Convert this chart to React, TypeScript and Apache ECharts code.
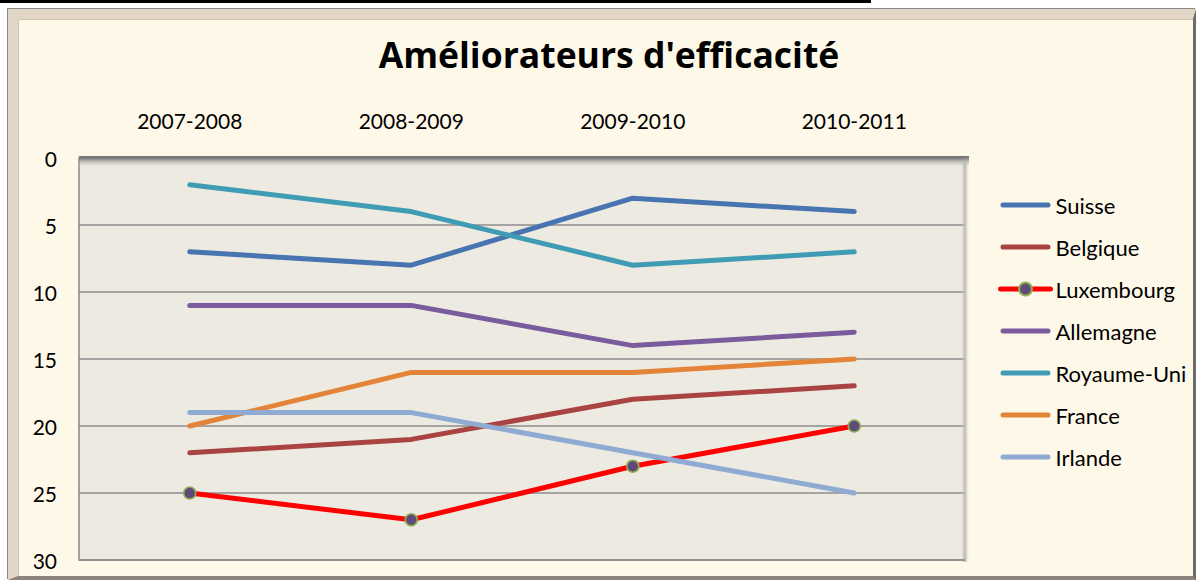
import React, { useEffect, useRef } from "react";
import * as echarts from "echarts";

const categories = ["2007-2008", "2008-2009", "2009-2010", "2010-2011"];
const suisse = [7, 8, 3, 4];
const belgique = [22, 21, 18, 17];
const luxembourg = [25, 27, 23, 20];
const allemagne = [11, 11, 14, 13];
const royaumeUni = [2, 4, 8, 7];
const france = [20, 16, 16, 15];
const irlande = [19, 19, 22, 25];
const yTicks = { min: 0, max: 30, interval: 5 };

const seriesDefs = [
  { name: "Suisse", data: suisse, color: "#4874B2" },
  { name: "Belgique", data: belgique, color: "#AA4442" },
  { name: "Luxembourg", data: luxembourg, color: "#FF0000", marker: true },
  { name: "Allemagne", data: allemagne, color: "#7A5C9E" },
  { name: "Royaume-Uni", data: royaumeUni, color: "#409CB5" },
  { name: "France", data: france, color: "#E38438" },
  { name: "Irlande", data: irlande, color: "#8FABD3" },
];

const FONT = "Lato";
// thick rounded line, vertically centred in a 50x16 box (zero-size subpaths fix the box)
const LINE_ICON =
  "path://M0 0L0 0ZM0 16L0 16ZM2.5 5.5H47.5A2.5 2.5 0 0 1 47.5 10.5H2.5A2.5 2.5 0 0 1 2.5 5.5Z";

export default function App() {
  const ref = useRef<HTMLDivElement>(null);
  useEffect(() => {
    if (!ref.current) return;
    const chart = echarts.init(ref.current, null, { renderer: "svg" });
    const L = 79, T = 158, R = 965, B = 560;
    chart.setOption({
      animation: false,
      backgroundColor: "transparent",
      title: {
        text: "Améliorateurs d'efficacité",
        left: 604,
        textAlign: "center",
        top: 31,
        textStyle: { fontFamily: "Open Sans", fontWeight: "bold", fontSize: 35.5, color: "#000" },
      },
      grid: {
        left: L,
        top: T,
        width: R - L,
        height: B - T,
        show: true,
        backgroundColor: "#EDEBE1",
        borderWidth: 0,
        z: 0,
      },
      legend: {
        orient: "vertical",
        left: 998,
        top: 194,
        padding: 0,
        itemWidth: 50,
        itemHeight: 16,
        itemGap: 20,
        lineStyle: { width: 5 },
        textStyle: { fontFamily: FONT, fontSize: 22, color: "#000" },
        data: seriesDefs.map((s) =>
          s.marker ? { name: s.name } : { name: s.name, icon: LINE_ICON }
        ),
      },
      xAxis: {
        type: "category",
        position: "top",
        data: categories,
        boundaryGap: true,
        axisLine: { show: false },
        axisTick: { show: false },
        axisLabel: { fontFamily: FONT, fontSize: 21, color: "#000", margin: 27 },
        splitLine: { show: false },
      },
      yAxis: {
        type: "value",
        inverse: true,
        min: yTicks.min,
        max: yTicks.max,
        interval: yTicks.interval,
        axisLine: { show: true, lineStyle: { color: "#888", width: 1.5 } },
        axisTick: { show: false },
        axisLabel: { fontFamily: FONT, fontSize: 21, color: "#000", margin: 22 },
        splitLine: { show: true, lineStyle: { color: "#8C8C8C", width: 1.5 } },
      },
      graphic: [
        {
          type: "rect",
          z: 1,
          shape: { x: L, y: T - 2, width: R - L + 4, height: 12 },
          style: {
            fill: new echarts.graphic.LinearGradient(0, 0, 0, 1, [
              { offset: 0, color: "rgba(110,110,110,1)" },
              { offset: 0.3, color: "rgba(130,130,130,0.8)" },
              { offset: 1, color: "rgba(237,235,225,0)" },
            ]),
          },
        },
        {
          type: "rect",
          z: 1,
          shape: { x: R - 4, y: T + 4, width: 8, height: B - T - 2 },
          style: {
            fill: new echarts.graphic.LinearGradient(0, 0, 1, 0, [
              { offset: 0, color: "rgba(200,200,195,0)" },
              { offset: 0.5, color: "rgba(180,178,170,0.9)" },
              { offset: 1, color: "rgba(220,215,200,0)" },
            ]),
          },
        },
        {
          type: "line",
          z: 1,
          shape: { x1: L, y1: B, x2: R, y2: B },
          style: { stroke: "#8a8a8a", lineWidth: 1.5 },
        },
      ],
      series: seriesDefs.map((s) => ({
        name: s.name,
        type: "line",
        data: s.data,
        z: 3,
        symbol: s.marker ? "circle" : "none",
        symbolSize: 12,
        showSymbol: !!s.marker,
        color: s.color,
        lineStyle: { color: s.color, width: 5, cap: "round", join: "round" },
        itemStyle: s.marker
          ? { color: "#604A7B", borderColor: "#8FB050", borderWidth: 1.5 }
          : { color: s.color },
      })),
    });
    return () => chart.dispose();
  }, []);
  return (
    <div style={{ position: "absolute", left: 0, top: 0, width: 1196, height: 583, background: "#fff" }}>
      <div style={{ position: "absolute", left: 0, top: 0, width: 871, height: 3, background: "#000" }} />
      <div
        style={{
          position: "absolute",
          left: 8,
          top: 9,
          width: 1188,
          height: 571,
          boxSizing: "border-box",
          background: "#FEF8E8",
          borderTop: "10px solid #E2D6C6",
          borderLeft: "10px solid #E2D6C6",
          borderRight: "3px solid #6E6A66",
          borderBottom: "4px solid #8C847C",
          boxShadow: "inset 1px 1px 0 #CFC2B0, -1px -1px 0 #8A8A8A",
        }}
      />
      <div ref={ref} style={{ position: "absolute", left: 0, top: 0, width: 1196, height: 583 }} />
    </div>
  );
}
